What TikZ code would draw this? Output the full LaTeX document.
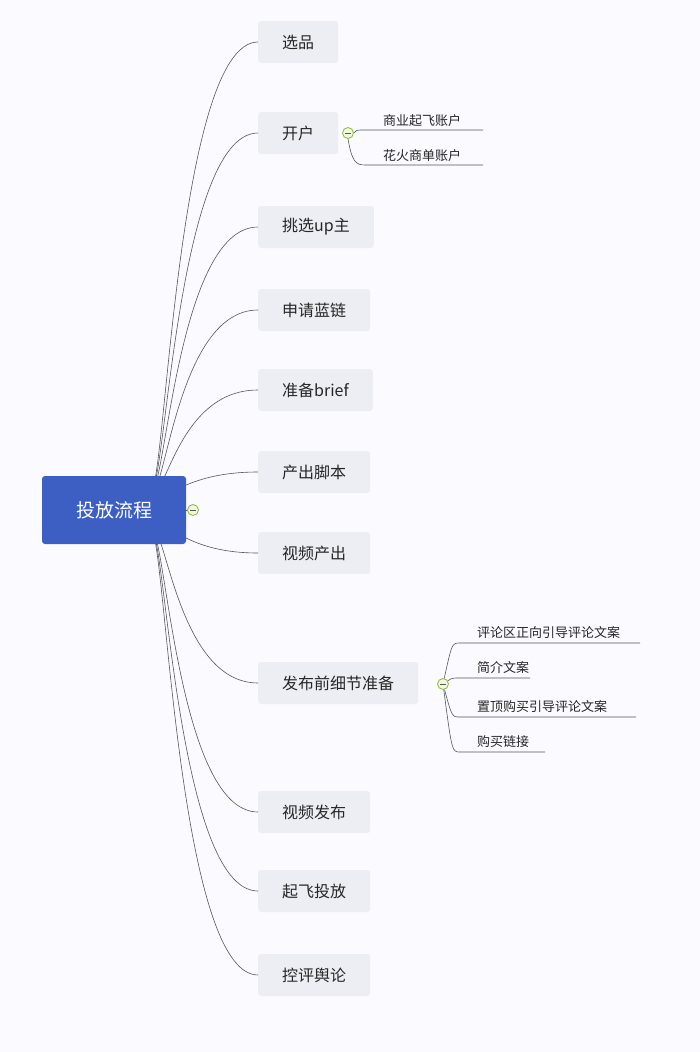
\documentclass[tikz,border=0pt]{standalone}
\usepackage{fontspec}
\setmainfont{Noto Sans CJK SC}
\definecolor{rootblue}{HTML}{3D5FC4}
\definecolor{boxgray}{HTML}{ECEEF4}
\definecolor{linegray}{HTML}{55555F}
\definecolor{togglegreen}{HTML}{8DB83A}
\definecolor{togglefill}{HTML}{F2F8D8}
\usetikzlibrary{positioning}

\begin{document}
\begin{tikzpicture}[x=1pt, y=-1pt]
  \tikzset{
    rootbox/.style={fill=rootblue, rounded corners=3pt, text=white, minimum width=144pt, minimum height=68pt, font=\fontsize{19}{22}\selectfont},
    topicbox/.style={fill=boxgray, rounded corners=3pt, anchor=west, minimum height=42pt, inner xsep=24pt, font=\fontsize{16}{19}\selectfont, text=black!85},
    subtext/.style={anchor=south west, inner sep=1pt, font=\fontsize{13}{15}\selectfont, text=black!85},
    branch/.style={draw=linegray, line width=0.6pt},
    toggle/.style={circle, draw=togglegreen, fill=togglefill, line width=0.8pt, minimum size=11pt, inner sep=0pt}
  }
  \fill[white!98!blue] (0,0) rectangle (700,1052);
  \useasboundingbox (0,0) rectangle (700,1052);

  \coordinate (up) at (150,490);
  \coordinate (down) at (150,530);

  % main topics
  \foreach \t/\y [count=\i] in {选品/42, 开户/133, 挑选up主/227, 申请蓝链/310, 准备brief/390,
      产出脚本/472, 视频产出/553, 发布前细节准备/683, 视频发布/812, 起飞投放/891, 控评舆论/975}
    \node [topicbox] (topic-\i) at (258,\y) {\t};

  \foreach \i in {1,...,6}
    \draw [branch] (up) .. controls (165,510) and (175,0 |- topic-\i.west) .. (topic-\i.west);
  \foreach \i in {7,...,11}
    \draw [branch] (down) .. controls (165,510) and (175,0 |- topic-\i.west) .. (topic-\i.west);
  \node [rootbox] (root) at (114,510) {投放流程};
  \draw [branch] (root.east) -- (193,510);
  \node [toggle] (t-root) at (193,510) {};
  \draw [linegray, line width=0.8pt] (190,510) -- (196,510);

  % 开户
  \node [toggle] (t-acct) at (348,133) {};
  \draw [linegray, line width=0.8pt] (345,133) -- (351,133);
  \foreach \t/\y [count=\i] in {商业起飞账户/130, 花火商单账户/165}
    \node [subtext] (acct-\i) at (382,\y-2) {\t};
  \coordinate (acct-l1) at (365,130);
  \coordinate (acct-l2) at (365,165);
  \draw [branch] (t-acct.east) .. controls (356,130) .. (acct-l1) -- (483,130);
  \draw [branch] (t-acct.south) .. controls (352,162) and (356,165) .. (acct-l2) -- (483,165);

  % 发布前细节准备
  \node [toggle] (t-prep) at (443,684) {};
  \draw [linegray, line width=0.8pt] (440,684) -- (446,684);
  \foreach \t/\y/\e [count=\i] in {评论区正向引导评论文案/643/640, 简介文案/678/530,
      置顶购买引导评论文案/717/636, 购买链接/752/545} {
    \node [subtext] (prep-\i) at (476,\y-3) {\t};
    \coordinate (prep-l\i) at (460,\y);
    \draw [branch] (t-prep) .. controls (452,\y) .. (prep-l\i) -- (\e,\y);
  }
\end{tikzpicture}
\end{document}
